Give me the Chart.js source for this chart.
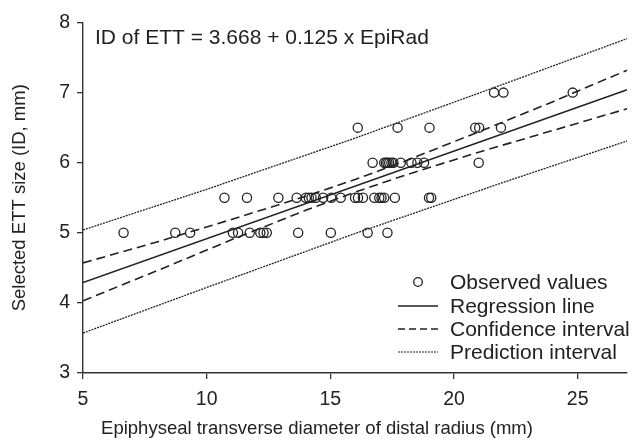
<!DOCTYPE html>
<html>
<head>
<meta charset="utf-8">
<script src="https://cdn.jsdelivr.net/npm/chart.js@4.4.1/dist/chart.umd.min.js"></script>
<style>
	html, body { margin: 0; padding: 0; background: #fff; }
	canvas { display: block; }
</style>
</head>
<body>
<canvas id="mainChart" width="633" height="443"></canvas>
<script>
const xTicks = [5, 10, 15, 20, 25];
const yTicks = [3, 4, 5, 6, 7, 8];

// observed values (diameter mm, ETT ID mm)
const obsX = [
	6.64, 8.73, 9.33, 11.06, 11.27, 11.74, 12.17, 12.3, 12.43, 13.7, 15.02, 16.51, 17.31,
	10.72, 11.63, 12.9, 13.64, 14.01, 14.13, 14.24, 14.41, 14.71, 15.04, 15.42, 16.0, 16.12,
	16.32, 16.78, 16.98, 17.07, 17.18, 17.61, 18.99, 19.08,
	16.71, 17.18, 17.25, 17.31, 17.38, 17.47, 17.55, 17.85, 18.28, 18.52, 18.79, 21.0,
	16.11, 17.72, 19.01, 20.86, 21.02, 21.9,
	21.62, 22.0, 24.8,
];
const obsY = [
	5, 5, 5, 5, 5, 5, 5, 5, 5, 5, 5, 5, 5,
	5.5, 5.5, 5.5, 5.5, 5.5, 5.5, 5.5, 5.5, 5.5, 5.5, 5.5, 5.5, 5.5,
	5.5, 5.5, 5.5, 5.5, 5.5, 5.5, 5.5, 5.5,
	6, 6, 6, 6, 6, 6, 6, 6, 6, 6, 6, 6,
	6.5, 6.5, 6.5, 6.5, 6.5, 6.5,
	7, 7, 7,
];

const regX = [5, 27];
const regY = [4.29, 7.04];

const ciX = [5, 8, 11, 14, 16, 18, 21, 24, 27];
const ciUpper = [4.57, 4.87, 5.19, 5.52, 5.76, 6.02, 6.44, 6.87, 7.32];
const ciLower = [4.03, 4.46, 4.9, 5.32, 5.58, 5.82, 6.15, 6.46, 6.77];

const piX = [5, 10, 16, 22, 27];
const piUpper = [5.04, 5.62, 6.35, 7.12, 7.77];
const piLower = [3.57, 4.22, 4.99, 5.72, 6.31];

const legendLabels = ['Observed values', 'Regression line', 'Confidence interval', 'Prediction interval'];
const equationText = 'ID of ETT = 3.668 + 0.125 x EpiRad';
const xTitle = 'Epiphyseal transverse diameter of distal radius (mm)';
const yTitle = 'Selected ETT size (ID, mm)';

const ink = '#222';
const fontFamily = "'Liberation Sans', Arial, sans-serif";

const toPoints = (xs, ys) => xs.map((x, i) => ({ x: x, y: ys[i] }));

const lineSet = (xs, ys, dash, width) => ({
	type: 'line',
	data: toPoints(xs, ys),
	borderColor: ink,
	borderWidth: width,
	borderDash: dash,
	pointRadius: 0,
	fill: false,
	tension: 0,
});

const extrasPlugin = {
	id: 'extras',
	afterDraw(chart) {
		const ctx = chart.ctx;
		ctx.save();
		ctx.fillStyle = ink;
		ctx.strokeStyle = ink;

		// equation
		ctx.font = '21px ' + fontFamily;
		ctx.textAlign = 'left';
		ctx.textBaseline = 'alphabetic';
		ctx.fillText(equationText, 95, 44);

		// x title
		ctx.font = '18.5px ' + fontFamily;
		ctx.textAlign = 'center';
		ctx.fillText(xTitle, 317, 434);

		// legend
		const rows = [282, 306, 329, 352];
		ctx.font = '21px ' + fontFamily;
		ctx.textAlign = 'left';
		ctx.textBaseline = 'middle';
		rows.forEach((y, i) => {
			ctx.lineWidth = 1.3;
			if (i === 0) {
				ctx.beginPath();
				ctx.arc(418, y, 4.3, 0, Math.PI * 2);
				ctx.stroke();
			} else {
				ctx.setLineDash(i === 2 ? [7, 4] : i === 3 ? [2, 1] : []);
				ctx.lineWidth = i === 3 ? 1.2 : 1.4;
				ctx.beginPath();
				ctx.moveTo(398, y);
				ctx.lineTo(438, y);
				ctx.stroke();
				ctx.setLineDash([]);
			}
			ctx.fillText(legendLabels[i], 450, y + 1);
		});
		ctx.restore();
	},
};

new Chart(document.getElementById('mainChart'), {
	type: 'scatter',
	data: {
		datasets: [
			{
				label: legendLabels[0],
				data: toPoints(obsX, obsY),
				pointStyle: 'circle',
				pointRadius: 4.6,
				pointBorderWidth: 1.3,
				pointBackgroundColor: 'rgba(0,0,0,0)',
				pointBorderColor: ink,
			},
			Object.assign(lineSet(regX, regY, [], 1.5), { label: legendLabels[1] }),
			Object.assign(lineSet(ciX, ciUpper, [9, 5], 1.6), { label: legendLabels[2] }),
			Object.assign(lineSet(ciX, ciLower, [9, 5], 1.6), { label: legendLabels[2] }),
			Object.assign(lineSet(piX, piUpper, [2, 1], 1.3), { label: legendLabels[3] }),
			Object.assign(lineSet(piX, piLower, [2, 1], 1.3), { label: legendLabels[3] }),
		],
	},
	options: {
		responsive: false,
		animation: false,
		devicePixelRatio: 1,
		layout: {
			padding: { top: 22.5, right: 2, left: 0, bottom: 0 },
		},
		plugins: {
			legend: { display: false },
			tooltip: { enabled: false },
		},
		scales: {
			x: {
				type: 'linear',
				min: 5,
				max: 27,
				afterBuildTicks: (scale) => {
					scale.ticks = xTicks.map((v) => ({ value: v }));
				},
				afterFit: (scale) => {
					scale.height = 70;
				},
				grid: {
					drawOnChartArea: false,
					drawTicks: true,
					tickLength: 6,
					color: '#333',
					lineWidth: 1.3,
				},
				border: { color: '#333', width: 1.4 },
				ticks: {
					color: ink,
					padding: 9,
					maxRotation: 0,
					font: { size: 19.5, family: fontFamily },
				},
			},
			y: {
				min: 3,
				max: 8,
				afterBuildTicks: (scale) => {
					scale.ticks = yTicks.map((v) => ({ value: v }));
				},
				afterFit: (scale) => {
					scale.width = 83;
				},
				grid: {
					drawOnChartArea: false,
					drawTicks: true,
					tickLength: 6,
					color: '#333',
					lineWidth: 1.3,
				},
				border: { color: '#333', width: 1.4 },
				ticks: {
					color: ink,
					padding: 7,
					font: { size: 19.5, family: fontFamily },
				},
				title: {
					display: true,
					text: yTitle,
					color: ink,
					padding: { top: 9, bottom: 0 },
					font: { size: 18.5, family: fontFamily },
				},
			},
		},
	},
	plugins: [extrasPlugin],
});
</script>
</body>
</html>
